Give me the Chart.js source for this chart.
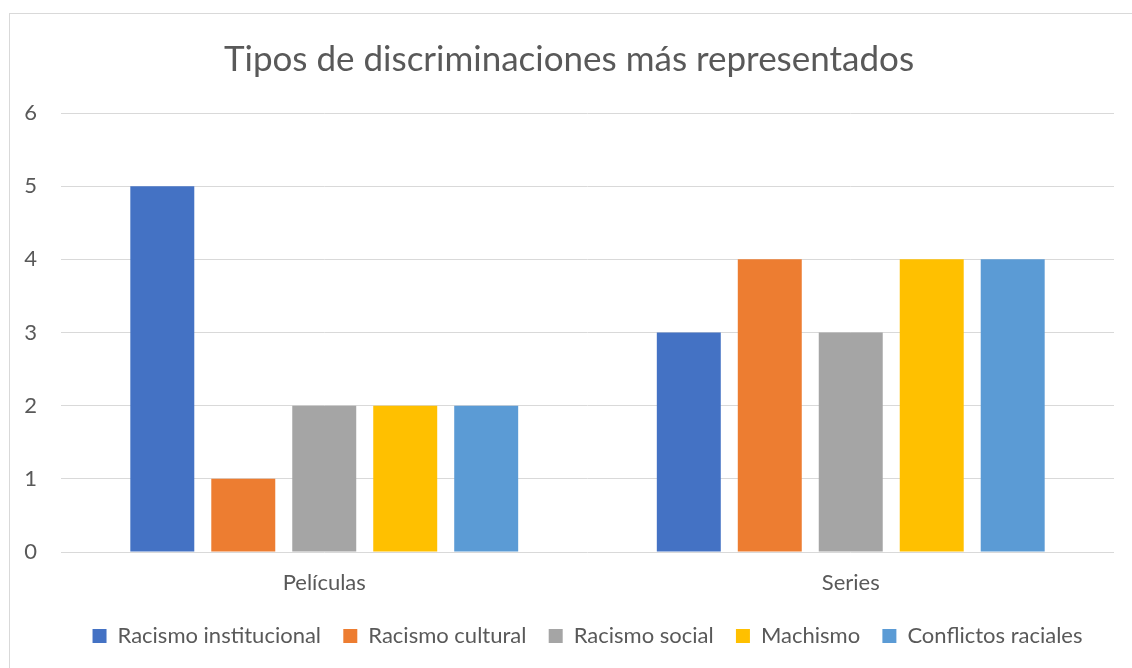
<!DOCTYPE html>
<html>
<head>
<meta charset="utf-8">
<script src="https://cdn.jsdelivr.net/npm/chart.js@4.4.1/dist/chart.umd.min.js"></script>
<style>
  html, body { margin: 0; padding: 0; background: #fff; }
  #wrap { position: relative; width: 1132px; height: 668px; overflow: hidden; }
  #frame { position: absolute; left: 9px; top: 13px; width: 1140px; height: 700px; border: 1px solid #d9d9d9; box-sizing: border-box; }
  canvas { position: absolute; left: 0; top: 0; }
</style>
</head>
<body>
<div id="wrap">
  <div id="frame"></div>
  <canvas id="c" width="1132" height="668"></canvas>
</div>
<script>
const categories = ["Películas", "Series"];
const seriesNames = ["Racismo institucional", "Racismo cultural", "Racismo social", "Machismo", "Conflictos raciales"];
const racismoInstitucional = [5, 3];
const racismoCultural = [1, 4];
const racismoSocial = [2, 3];
const machismo = [2, 4];
const conflictosRaciales = [2, 4];
const yTicks = [0, 1, 2, 3, 4, 5, 6];

const seriesValues = [racismoInstitucional, racismoCultural, racismoSocial, machismo, conflictosRaciales];
const colors = ["#4472C4", "#ED7D31", "#A5A5A5", "#FFC000", "#5B9BD5"];
const FONT = "Lato, 'Open Sans', sans-serif";
const TXT = "#595959";

new Chart(document.getElementById("c"), {
  type: "bar",
  data: {
    labels: categories,
    datasets: seriesNames.map((n, i) => ({
      label: n,
      data: seriesValues[i],
      backgroundColor: colors[i],
      borderWidth: 0,
      categoryPercentage: 0.769,
      barPercentage: 0.79
    }))
  },
  options: {
    responsive: false,
    animation: false,
    layout: { padding: { left: 24, right: 18, top: 0, bottom: 11 } },
    plugins: {
      title: {
        display: true,
        text: "Tipos de discriminaciones más representados",
        color: TXT,
        font: { family: FONT, size: 35, weight: "normal" },
        padding: { top: 39, bottom: 32 }
      },
      legend: {
        position: "bottom",
        fullSize: false,
        labels: {
          color: TXT,
          font: { family: FONT, size: 22 },
          boxWidth: 14,
          boxHeight: 14,
          padding: 11,
          generateLabels: (chart) => {
            const items = Chart.defaults.plugins.legend.labels.generateLabels(chart);
            items.forEach((it, i) => { if (i < items.length - 1) it.text = it.text + "  "; });
            return items;
          }
        }
      },
      tooltip: { enabled: false }
    },
    scales: {
      x: {
        grid: { display: false, drawTicks: false },
        border: { display: false },
        ticks: { color: TXT, font: { family: FONT, size: 22 }, padding: 17.8 }
      },
      y: {
        min: 0,
        max: 6,
        afterBuildTicks: (s) => { s.ticks = yTicks.map(v => ({ value: v })); },
        afterFit: (s) => { s.width = 37; },
        grid: { color: "#D9D9D9", lineWidth: 1, drawTicks: false },
        border: { display: false },
        ticks: { color: TXT, font: { family: FONT, size: 22 }, padding: 24 }
      }
    }
  }
});
</script>
</body>
</html>
